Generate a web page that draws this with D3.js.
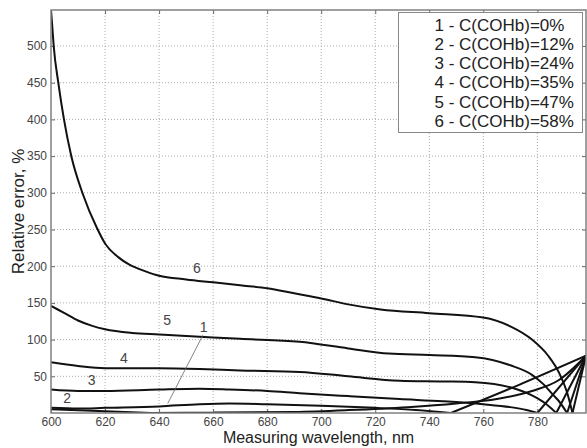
<!DOCTYPE html>
<html>
<head>
<meta charset="utf-8">
<script src="https://cdn.jsdelivr.net/npm/d3@7"></script>
<style>
  body { margin: 0; background: #fff; }
  text { font-family: Arial, "Liberation Sans", sans-serif; }
</style>
</head>
<body>
<div id="chart"></div>
<script>
// data: wavelength (nm) / relative error (%)
var wl6 = [600, 600.5, 601, 602.7, 604.8, 607.5, 611.8, 617, 620, 625, 629, 635, 640, 650, 660, 670, 680, 690, 700, 710, 722, 740, 760, 770, 778, 784, 788, 791, 793, 798];
var err6 = [549, 525, 500, 450, 400, 350, 298, 252, 231, 212, 202, 193, 187, 182, 178, 174, 170, 163, 156, 148, 141, 136, 130, 118, 100, 78, 55, 28, 0, 78];
var wl5 = [600, 605, 610, 615, 620, 630, 640, 655, 670, 692, 710, 725, 740, 757, 770, 778, 782, 786, 788, 791, 798];
var err5 = [146, 136, 126, 119, 114, 109, 107, 104, 101, 97, 88, 81, 79, 76, 65, 52, 40, 24, 16, 0, 78];
var wl4 = [600, 610, 620, 640, 655, 670, 692, 710, 729, 745, 757, 770, 778, 783, 787, 798];
var err4 = [69, 64, 61, 61, 60, 58, 56, 50, 44, 43, 42, 35, 24, 13, 0, 78];
var wl3 = [600, 610, 620, 640, 655, 666, 680, 692, 710, 729, 745, 760, 770, 776, 780, 798];
var err3 = [32, 30, 30, 32, 33, 32, 30, 27, 23, 19, 16, 12, 8, 4, 0, 78];
var wl2 = [600, 610, 620, 640, 655, 666, 680, 700, 720, 735, 748, 773, 798];
var err2 = [7, 6, 7, 9, 12, 13, 12, 10, 7, 4, 0, 38, 78];
var wl1 = [600, 620, 637, 660, 690, 710, 732, 750, 765, 778, 788, 798];
var err1 = [5, 2.5, 0, 0.5, 1.5, 4, 8, 13, 19, 30, 45, 78];

var legendLabels = ["1 - C(COHb)=0%", "2 - C(COHb)=12%", "3 - C(COHb)=24%",
                    "4 - C(COHb)=35%", "5 - C(COHb)=47%", "6 - C(COHb)=58%"];
var xTicks = [600, 620, 640, 660, 680, 700, 720, 740, 760, 780];
var yTicks = [50, 100, 150, 200, 250, 300, 350, 400, 450, 500];
// curve number labels: [name, wavelength, error]
var curveLabels = [["6", 654, 197], ["5", 643, 126], ["4", 627, 75], ["3", 615, 45], ["2", 606, 20], ["1", 656.5, 117]];
var leader1 = [[656.2, 106], [643.2, 13]];

var margin = {top: 10, right: 1, bottom: 35, left: 51},
    width = 587 - margin.left - margin.right,
    height = 448 - margin.top - margin.bottom;

var svg = d3.select("#chart").append("svg")
    .attr("width", 587)
    .attr("height", 448)
    .append("g")
    .attr("transform", "translate(" + margin.left + "," + margin.top + ")");

var x = d3.scaleLinear().domain([600, 798]).range([0, width]);
var y = d3.scaleLinear().domain([0, 549]).range([height, 0]);

// grid
svg.append("g").selectAll("line").data(xTicks.slice(1)).enter().append("line")
    .attr("x1", d => x(d)).attr("x2", d => x(d))
    .attr("y1", 0).attr("y2", height)
    .attr("stroke", "#aaa").attr("stroke-dasharray", "1,2");
svg.append("g").selectAll("line").data(yTicks).enter().append("line")
    .attr("x1", 0).attr("x2", width)
    .attr("y1", d => y(d)).attr("y2", d => y(d))
    .attr("stroke", "#aaa").attr("stroke-dasharray", "1,2");

// axes (MATLAB style: ticks inward)
svg.append("g")
    .attr("transform", "translate(0," + height + ")")
    .call(d3.axisBottom(x).tickValues(xTicks).tickSizeInner(-4).tickSizeOuter(0).tickPadding(4));
svg.append("g")
    .call(d3.axisLeft(y).tickValues(yTicks).tickSizeInner(-4).tickSizeOuter(0).tickPadding(4));
svg.append("g")
    .call(d3.axisTop(x).tickValues(xTicks).tickSizeInner(-4).tickSizeOuter(0).tickFormat(""));
svg.append("g")
    .attr("transform", "translate(" + width + ",0)")
    .call(d3.axisRight(y).tickValues(yTicks).tickSizeInner(-4).tickSizeOuter(0).tickFormat(""));
svg.selectAll(".domain").attr("stroke", "none");
svg.selectAll(".tick line").attr("stroke", "#666");
svg.selectAll(".tick text").attr("font-size", 12).attr("fill", "#444")
    .attr("font-family", "Arial, 'Liberation Sans', sans-serif");

// curves: each split at its zero crossing so the V stays sharp
var series = [[wl1, err1], [wl2, err2], [wl3, err3], [wl4, err4], [wl5, err5], [wl6, err6]];
var segments = [];
series.forEach(function(s) {
    var pts = s[0].map((w, i) => [w, s[1][i]]);
    var iz = s[1].lastIndexOf(0);
    segments.push(pts.slice(0, iz + 1));
    segments.push(pts.slice(iz));
});
var line = d3.line()
    .x(d => x(d[0])).y(d => y(d[1]))
    .curve(d3.curveMonotoneX);
svg.append("defs").append("clipPath").attr("id", "clip")
    .append("rect").attr("width", width).attr("height", height);
svg.append("g").attr("clip-path", "url(#clip)")
    .selectAll("path").data(segments).enter().append("path")
    .attr("d", line)
    .attr("fill", "none").attr("stroke", "#111").attr("stroke-width", 2)
    .attr("stroke-linejoin", "round");

// frame
svg.append("rect").attr("width", width).attr("height", height)
    .attr("fill", "none").attr("stroke", "#808080").attr("stroke-width", 1.5);

// curve labels
svg.selectAll("text.cl").data(curveLabels).enter().append("text")
    .attr("class", "cl")
    .attr("x", d => x(d[1])).attr("y", d => y(d[2]))
    .attr("text-anchor", "middle").attr("dy", "0.35em")
    .attr("font-size", 14).attr("fill", "#444")
    .text(d => d[0]);
svg.append("line")
    .attr("x1", x(leader1[0][0])).attr("y1", y(leader1[0][1]))
    .attr("x2", x(leader1[1][0])).attr("y2", y(leader1[1][1]))
    .attr("stroke", "#666").attr("stroke-width", 0.8);

// legend
var lg = svg.append("g").attr("transform", "translate(" + (398.5 - margin.left) + "," + (12.5 - margin.top) + ")");
lg.append("rect").attr("width", 184).attr("height", 120)
    .attr("fill", "#fff").attr("stroke", "#888").attr("stroke-width", 1);
lg.selectAll("text").data(legendLabels).enter().append("text")
    .attr("x", 36).attr("y", (d, i) => 18 + i * 19.3)
    .attr("font-size", 17).attr("fill", "#222")
    .text(d => d);

// axis titles
svg.append("text")
    .attr("x", width / 2).attr("y", height + 30)
    .attr("text-anchor", "middle").attr("font-size", 16).attr("fill", "#222")
    .text("Measuring wavelength, nm");
svg.append("text")
    .attr("transform", "translate(" + (-27) + "," + (height / 2) + ") rotate(-90)")
    .attr("text-anchor", "middle").attr("font-size", 17).attr("fill", "#222")
    .text("Relative error, %");
</script>
</body>
</html>
